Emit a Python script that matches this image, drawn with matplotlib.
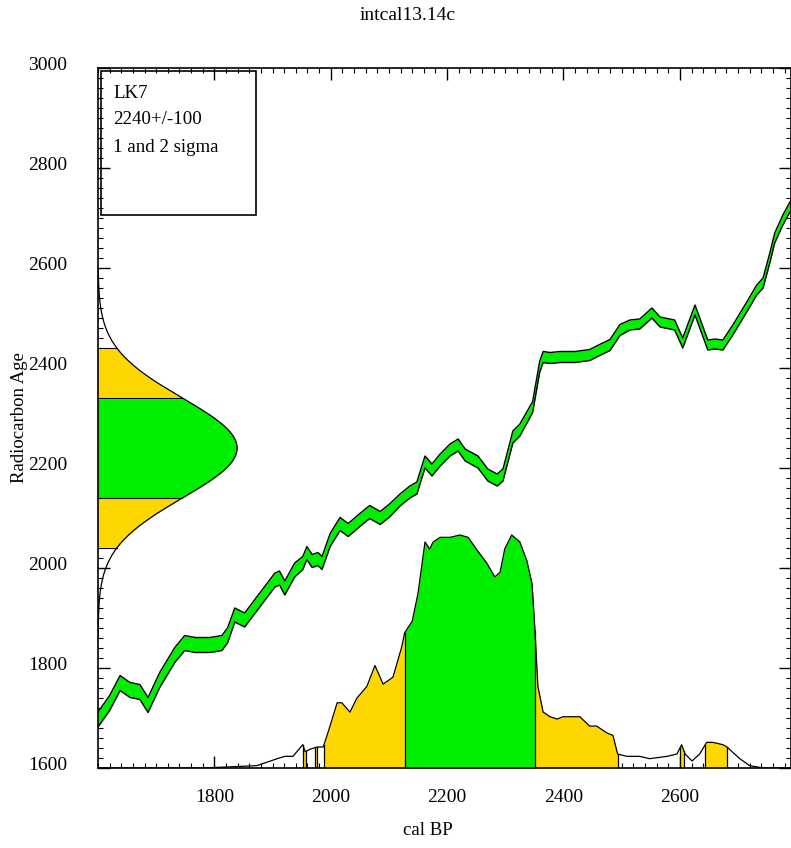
import numpy as np
import matplotlib
matplotlib.use("Agg")
import matplotlib.pyplot as plt
from matplotlib.patches import Rectangle
from matplotlib.transforms import ScaledTranslation

plt.rcParams['font.family'] = ['Liberation Serif', 'DejaVu Serif']

# calibration curve (cal BP, 14C age, 1 sigma)
cal_bp = [1600, 1620, 1638, 1655, 1672, 1686, 1706, 1732, 1749, 1767, 1792, 1813,
          1823, 1835, 1852, 1878, 1904, 1912, 1921, 1938, 1952, 1959, 1968, 1978,
          1985, 1999, 2016, 2030, 2050, 2067, 2085, 2102, 2119, 2136, 2148, 2162,
          2174, 2188, 2205, 2219, 2231, 2253, 2270, 2286, 2296, 2313, 2325, 2347,
          2359, 2365, 2377, 2394, 2420, 2445, 2462, 2480, 2497, 2514, 2531, 2552,
          2566, 2591, 2605, 2626, 2648, 2660, 2674, 2691, 2717, 2732, 2743, 2755,
          2763, 2777, 2791]
c14_age = [1697, 1730, 1770, 1756, 1752, 1726, 1776, 1826, 1850, 1846, 1846, 1850,
           1866, 1906, 1896, 1936, 1976, 1980, 1960, 1996, 2010, 2030, 2014, 2018,
           2010, 2056, 2088, 2076, 2096, 2112, 2100, 2116, 2136, 2152, 2160, 2212,
           2196, 2216, 2236, 2246, 2226, 2212, 2186, 2176, 2186, 2262, 2276, 2322,
           2402, 2422, 2420, 2422, 2422, 2426, 2436, 2446, 2476, 2486, 2488, 2510,
           2492, 2486, 2450, 2516, 2446, 2448, 2446, 2476, 2526, 2556, 2570, 2622,
           2660, 2696, 2726]
c14_err = [15, 15, 15, 15, 15, 15, 15, 15, 15, 15, 15, 15,
           15, 14, 14, 14, 14, 14, 14, 14, 13, 13, 13, 13,
           13, 13, 13, 13, 13, 13, 13, 13, 12, 12, 12, 12,
           12, 12, 12, 12, 12, 12, 12, 12, 12, 12, 12, 11,
           11, 11, 11, 11, 11, 11, 11, 11, 11, 10, 10, 10,
           10, 10, 10, 10, 10, 10, 10, 10, 10, 10, 10, 10,
           10, 10, 10]

# sample date
lab_code = "LK7"
c14_mean = 2240
c14_sd = 100

# calibrated probability (relative)
prob_bp = [1600, 1780, 1873, 1908, 1921, 1935, 1952, 1956, 1964, 1976, 1987, 1995,
           2011, 2019, 2033, 2045, 2062, 2076, 2090, 2107, 2122, 2127, 2140, 2150,
           2162, 2170, 2176, 2188, 2205, 2222, 2236, 2253, 2268, 2282, 2291, 2299,
           2311, 2325, 2337, 2346, 2351, 2356, 2365, 2377, 2389, 2399, 2428, 2445,
           2457, 2475, 2485, 2493, 2509, 2531, 2548, 2578, 2595, 2603, 2609, 2621,
           2634, 2646, 2657, 2674, 2681, 2703, 2720, 2743, 2791]
prob = [0, 0, 0.01, 0.04, 0.05, 0.05, 0.10, 0.07, 0.08, 0.09, 0.09, 0.15,
        0.28, 0.28, 0.24, 0.30, 0.35, 0.44, 0.36, 0.39, 0.52, 0.58, 0.63, 0.75,
        0.97, 0.94, 0.97, 0.99, 0.99, 1.0, 0.99, 0.93, 0.88, 0.82, 0.84, 0.94,
        1.0, 0.97, 0.89, 0.79, 0.59, 0.35, 0.24, 0.22, 0.21, 0.22, 0.22, 0.18,
        0.18, 0.15, 0.14, 0.06, 0.05, 0.05, 0.04, 0.05, 0.06, 0.10, 0.06, 0.03,
        0.06, 0.11, 0.11, 0.10, 0.09, 0.04, 0.01, 0.0, 0.0]
one_sigma = [(2127, 2351)]
two_sigma = [(1952, 1957), (1973, 1976), (1988, 2494), (2601, 2607), (2643, 2681)]

green = '#00ee00'
yellow = '#ffd700'

fig = plt.figure(figsize=(7.91, 8.48), dpi=100)
ax = fig.add_axes([98 / 791, 80 / 848, 693 / 791, 700 / 848])
ax.set_xlim(1600, 2791)
ax.set_ylim(1600, 3000)

# calibration curve band
cal = np.array(cal_bp)
age = np.array(c14_age)
err = np.array(c14_err)
ax.fill_between(cal, age - err, age + err, color=green, lw=0, zorder=3)
ax.plot(cal, age - err, color='black', lw=1.0, zorder=4)
ax.plot(cal, age + err, color='black', lw=1.0, zorder=4)

# radiocarbon date on y axis
yy = np.linspace(c14_mean - 3.8 * c14_sd, c14_mean + 3.6 * c14_sd, 400)
dens = 1600 + 239 * np.exp(-0.5 * ((yy - c14_mean) / c14_sd) ** 2)
ax.fill_betweenx(yy, 1600, dens, where=np.abs(yy - c14_mean) <= 2 * c14_sd,
                 color=yellow, lw=0, zorder=2)
ax.fill_betweenx(yy, 1600, dens, where=np.abs(yy - c14_mean) <= c14_sd,
                 color=green, lw=0, zorder=2)
ax.plot(dens, yy, color='black', lw=0.9, zorder=3)
for k in (-2, -1, 1, 2):
    yk = c14_mean + k * c14_sd
    ax.plot([1600, 1600 + 239 * np.exp(-0.5 * k * k)], [yk, yk], color='black', lw=0.8, zorder=3)

# calibrated distribution
pb = np.array(prob_bp, dtype=float)
pp = 1600 + 466 * np.array(prob)


def draw_range(lo, hi, col):
    xs = np.concatenate(([lo], pb[(pb > lo) & (pb < hi)], [hi]))
    ys = np.interp(xs, pb, pp)
    ax.fill_between(xs, 1600, ys, color=col, lw=0, zorder=2)
    ax.plot([lo, lo], [1600, ys[0]], color='black', lw=0.9, zorder=3)
    ax.plot([hi, hi], [1600, ys[-1]], color='black', lw=0.9, zorder=3)


for lo, hi in two_sigma:
    draw_range(lo, hi, yellow)
for lo, hi in one_sigma:
    draw_range(lo, hi, green)
ax.plot(pb, pp, color='black', lw=0.9, zorder=3)

# info box
ax.add_patch(Rectangle((3 / 693, 553 / 700), 155 / 693, 144 / 700, transform=ax.transAxes,
                       fill=False, ec='black', lw=1.2, zorder=5))
info = [lab_code, f"{c14_mean}+/-{c14_sd}", "1 and 2 sigma"]
for i, s in enumerate(info):
    ax.text(15 / 693, (675 - 27 * i) / 700, s, transform=ax.transAxes,
            fontsize=13.6, va='center', ha='left', zorder=6)

# ticks
ax.set_xticks([1800, 2000, 2200, 2400, 2600])
ax.set_xticks(np.arange(1600, 2791, 20), minor=True)
ax.set_yticks(np.arange(1600, 3001, 200))
ax.set_yticks(np.arange(1600, 3001, 20), minor=True)
ax.tick_params(which='both', direction='in', top=True, right=True, labelsize=14)
ax.tick_params(which='major', length=8.5, width=1.0)
ax.tick_params(which='minor', length=3.5, width=0.8)
ax.tick_params(axis='y', pad=22)
ax.tick_params(axis='x', pad=15)
off = ScaledTranslation(0, 4 / 100, fig.dpi_scale_trans)
for lab in ax.get_yticklabels():
    lab.set_transform(lab.get_transform() + off)
for sp in ax.spines.values():
    sp.set_linewidth(1.2)
    sp.set_zorder(6)

ax.set_xlabel('cal BP', fontsize=13.5)
ax.xaxis.set_label_coords((428 - 98) / 693, (768 - 822) / 700)
ax.xaxis.label.set_va('top')
ax.set_ylabel('Radiocarbon Age', fontsize=13.5)
ax.yaxis.set_label_coords((28 - 98) / 693, 0.5)
fig.text(408 / 791, 1 - 15 / 848, 'intcal13.14c', fontsize=14, ha='center', va='center')

fig.savefig('out.png', dpi=100)
